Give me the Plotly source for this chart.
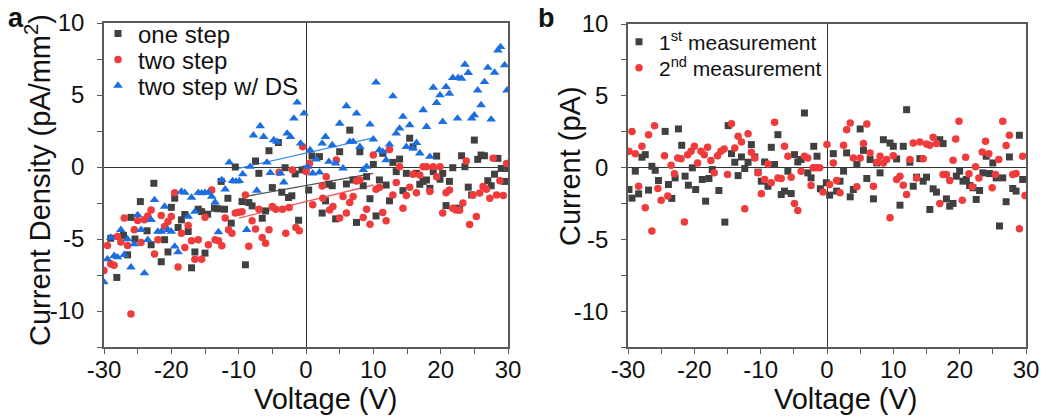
import plotly.graph_objects as go

# ---------------- Panel a data ----------------
one_x = [-28.1, -29.0, -27.1, -26.5, -26.0, -25.4, -24.6, -23.6, -23.0, -22.6, -21.5, -21.0, -20.5, -20.0,
         -19.5, -19.0, -18.5, -18.0, -17.5, -17.0, -16.5, -16.0, -15.5, -15.0, -14.6, -13.6, -13.1, -12.6,
         -12.1, -11.6, -11.1, -10.5, -9.5, -9.0, -8.5, -8.0, -7.5, -7.0, -6.5, -6.0, -5.5, -5.0, -4.1, -3.6,
         -3.1, -2.6, -2.1, -1.6, -1.1, -0.6, 0.0, 0.4, 0.9, 2.0, 2.4, 2.9, 3.4, 3.9, 4.4, 5.0, 6.0, 6.5, 7.0,
         7.5, 8.0, 8.5, 9.0, 9.5, 10.0, 10.4, 10.9, 11.4, 11.9, 12.4, 12.9, 13.4, 13.9, 14.4, 14.9, 15.4,
         15.9, 16.4, 16.9, 17.4, 17.9, 18.4, 18.9, 19.4, 19.9, 20.3, 20.8, 21.3, 21.8, 22.3, 22.8, 23.1,
         23.6, 24.1, 24.6, 25.0, 25.5, 26.0, 26.5, 27.0, 27.5, 28.0, 28.5, 29.0, 29.5, 30.0]
one_y = [-7.67, -4.95, -4.75, -6.1, -3.5, -5.0, -2.4, -4.43, -5.4, -1.13, -6.58, -5.05, -5.9, -2.8,
         -2.17, -4.2, -3.67, -3.3, -4.48, -7.0, -5.9, -2.93, -3.1, -5.98, -3.28, -2.86, -2.9, -1.0,
         -2.93, -2.17, -3.9, 0.0, -2.4, -6.79, -2.47, -2.7, 0.42, -0.44, -3.56, -3.05, 1.13, -1.43, 1.7, -1.75,
         -0.05, -2.12, -2.0, -0.48, -3.7, -0.2, -0.14, -1.6, 0.76, 0.72, -3.2, -2.35, -1.2, -1.3, -3.6, 1.06,
         -1.18, 2.56, -0.9, -3.85, 1.06, -1.3, -0.67, -2.2, 0.18, -3.4, -0.9, 0.95, -1.25, -2.35, 0.32,
         -0.32, 0.55, -1.64, -0.44, 2.0, 1.4, -0.44, -1.2, -1.0, -0.9, -1.48, -0.32, 0.76, -0.85, -0.44,
         -2.68, -1.0, -0.05, -2.86, -2.93, 0.78, 0.02, -1.4, -1.94, 1.87, 0.53, 0.83, 0.78, -0.95, -1.3,
         -0.5, 0.6, -0.1, -1.0, -0.1]

two_x = [-30.0, -29.5, -29.0, -28.5, -28.0, -27.5, -27.0, -26.5, -26.0, -25.5, -25.0, -24.5, -24.0, -23.5,
         -23.0, -22.5, -22.0, -21.5, -21.0, -20.5, -20.0, -19.5, -19.0, -18.5, -18.0, -17.5, -17.0, -16.5,
         -16.0, -15.5, -15.0, -14.5, -14.0, -13.5, -13.0, -12.5, -12.0, -11.5, -11.0, -10.5, -10.0, -9.5,
         -9.0, -8.5, -8.0, -7.5, -7.0, -6.5, -6.0, -5.5, -5.0, -4.5, -4.0, -3.5, -3.0, -2.5, -2.0, -1.5,
         -1.0, -0.5, 0.0, 0.5, 1.0, 2.4, 2.5, 3.0, 3.5, 4.0, 4.5, 5.0, 5.5, 6.0, 6.5, 7.0, 7.5, 8.0, 8.5,
         9.0, 9.5, 10.0, 10.4, 10.9, 11.4, 11.9, 12.4, 12.9, 13.4, 13.9, 14.4, 14.9, 15.4, 15.9, 16.4, 16.9,
         17.4, 17.9, 18.4, 18.9, 19.4, 19.9, 20.3, 20.8, 21.3, 21.8, 22.3, 22.8, 23.3, 23.8, 24.3, 24.8,
         25.3, 25.8, 26.3, 26.8, 27.3, 27.8, 28.3, 28.8, 29.3, 29.8]
two_y = [-7.18, -5.45, -6.74, -6.83, -4.82, -5.2, -3.55, -5.45, -10.2, -4.36, -3.72, -5.24, -3.67, -3.4,
         -2.98, -6.05, -5.05, -3.37, -4.13, -3.79, -3.44, -1.78, -6.95, -4.6, -5.59, -4.06, -5.12, -6.4,
         -5.06, -6.4, -3.49, -5.4, -1.6, -5.06, -5.12, -5.47, -3.55, -4.36, -4.6, -3.2, -3.14, -3.1,
         -1.94, -5.5, -3.74, -4.3, -2.93, -4.9, -5.3, -4.36, -2.75, -2.93, -0.37, -2.93, -4.6, -2.82, -0.2, -4.2,
         -4.43, 1.4, -0.32, 0.25, -2.63, -1.32, -2.17, -0.67, -2.98, -2.75, 0.48, -3.55, -2.05, -3.2, -2.47,
         -2.05, -0.97, -0.9, -3.5, -2.93, -3.97, 0.83, -1.55, -1.43, -3.16, -3.74, 1.22, -1.94, -1.08, 0.02,
         -2.86, -1.98, -1.4, -0.5, -1.78, -0.55, 0.02, 0.02, -1.7, 0.02, -0.67, 0.02, -3.2, -1.78, -1.6,
         -2.86, -2.98, -3.0, -2.5, 0.42, -4.0, -1.94, -3.44, -1.8, -1.36, -1.55, -2.17, 0.6, -1.94, -0.95,
         -1.98, 0.25]

ds_x = [-30.0, -29.5, -29.0, -28.5, -28.0, -27.5, -27.0, -26.5, -26.0, -25.5, -25.0, -24.5, -24.0, -23.5,
        -23.0, -22.5, -22.0, -21.5, -21.0, -20.5, -20.0, -19.5, -19.0, -18.5, -18.0, -17.5, -17.0, -16.5,
        -16.0, -15.5, -15.0, -14.5, -14.0, -13.5, -13.0, -12.5, -12.0, -11.4, -10.9, -10.4, -9.9, -9.4,
        -8.8, -8.3, -7.8, -7.3, -6.8, -6.3, -5.8, -5.3, -4.8, -4.3, -3.8, -3.3, -2.8, -2.3, -1.8, -1.3,
        -0.8, -0.3, 0.2, 0.6, 1.0, 1.5, 2.0, 2.4, 2.9, 3.4, 3.9, 4.4, 5.0, 5.5, 6.0, 6.5, 7.0, 7.5, 8.0,
        8.5, 9.0, 9.5, 10.0, 10.4, 10.9, 11.4, 11.9, 12.4, 12.9, 13.4, 13.9, 14.4, 14.9, 15.4, 15.9, 16.4,
        16.9, 17.4, 17.9, 18.4, 18.9, 19.4, 19.9, 20.3, 20.8, 21.3, 21.8, 22.5, 22.6, 23.1, 23.6, 24.1,
        24.6, 25.0, 25.5, 26.0, 26.5, 27.0, 27.5, 28.0, 28.5, 28.9, 29.5, 29.85]
ds_y = [-8.0, -6.4, -4.9, -6.17, -6.26, -4.36, -6.1, -5.0, -6.97, -5.36, -3.33, -4.36, -7.37, -5.06,
        -3.67, -2.29, -4.48, -4.48, -2.75, -4.36, -4.48, -5.52, -5.91, -1.71, -1.78, -3.44, -2.12, -3.1,
        -1.78, -1.82, -1.78, -1.78, -2.05, -2.45, -4.52, -0.9, -1.55, 0.32, -0.97, -1.0, -0.97, -0.5,
        -4.36, 0.02, 2.2, -1.64, 2.84, 2.1, 0.32, -0.4, 1.87, 1.76, -0.44, -1.06, 2.33, 2.1, 3.37, 4.48,
        1.64, 3.72, 0.02, 1.18, -0.44, 0.53, -0.37, 1.64, 2.1, 0.37, 1.52, 0.25, 3.02, -0.09, 4.23, 1.76,
        1.76, 3.72, 1.4, -0.2, 0.02, 2.96, 1.92, 5.87, 1.18, 1.06, 0.48, 1.57, 4.92, 2.33, 2.68, 3.49, 1.4,
        2.91, 1.29, 1.68, 0.95, 3.95, 2.79, 0.72, 5.52, 4.46, 4.99, 3.14, 5.56, 5.1, 6.19, 3.37, 6.19,
        6.14, 7.11, 6.54, 3.37, 3.6, 5.33, 4.3, 5.91, 6.9, 3.3, 6.56, 8.1, 8.34, 7.07, 5.33]

# linear fits (endpoints)
fit_one_x = [-9.1, 10.0]
fit_one_y = [-2.05, -0.44]
fit_two_x = [-10.0, 10.0]
fit_two_y = [-3.55, -1.25]
fit_ds_x = [-10.0, 10.0]
fit_ds_y = [-0.09, 2.03]

# ---------------- Panel b data ----------------
m1_x = [-29.85, -29.4, -28.9, -28.4, -27.9, -27.4, -26.9, -26.4, -25.9, -25.4, -24.4, -23.9, -23.4, -22.9,
        -22.4, -21.9, -21.4, -20.9, -20.3, -19.8, -18.8, -18.3, -17.8, -17.3, -16.3, -15.4, -14.9, -14.4,
        -13.9, -13.4, -12.9, -12.4, -11.9, -11.4, -10.9, -10.4, -9.9, -9.4, -8.9, -8.4, -7.9, -7.4, -6.9,
        -6.4, -5.9, -5.4, -4.9, -4.4, -3.9, -3.4, -2.9, -2.4, -2.0, -1.5, -1.0, -0.1, 0.4, 0.95, 1.45,
        1.96, 2.5, 2.96, 3.5, 3.97, 4.5, 5.0, 5.5, 6.0, 6.5, 7.0, 7.5, 8.0, 8.5, 9.5, 10.0, 10.5, 11.0,
        11.5, 12.0, 12.5, 13.0, 13.5, 14.0, 14.5, 15.0, 15.5, 16.0, 16.5, 17.0, 17.5, 18.0, 18.5, 19.0,
        19.5, 20.0, 20.5, 21.0, 21.5, 22.0, 22.5, 23.0, 23.5, 24.0, 24.5, 25.0, 25.5, 26.0, 26.5, 27.0,
        27.5, 28.0, 28.5, 29.0, 29.5]
m1_y = [-1.53, -2.13, -0.25, -1.83, 0.72, 0.9, -1.57, 0.09, -0.19, -0.9, 2.52, -1.18, -2.15, -0.72,
        2.69, 1.55, -0.6, -1.23, -0.02, -1.53, -0.83, -2.34, -0.76, -0.14, -1.6, -3.8, 2.92, 0.97,
        0.37, -0.56, 0.74, -0.07, 0.37, 1.6, 0.74, -0.32, -0.95, 0.39, -1.3, 1.41, 0.21, 2.29, -1.88,
        -1.64, -0.25, -1.81, 0.9, 0.39, 0.56, 3.8, -0.37, -0.72, 1.48, 0.79, -1.48, -1.06, -1.92, 0.97, -1.64,
        -0.95, -0.25, 1.02, -2.04, -1.53, 0.21, 2.69, 1.2, -0.76, 0.56, -2.18, 0.32, -0.37, 1.94, 1.71, 1.48,
        0.6, -2.62, 1.48, 4.03, 0.37, -1.3, -0.67, 0.62, -0.95, -0.67, -2.92, -1.48, -1.71, 1.94, 1.67,
        -2.18, -2.69, -2.5, -0.6, -0.25, -0.95, -0.83, -1.25, -1.41, -2.22, -1.6, -0.37, 0.79, -0.42, 0.32,
        -0.72, -4.07, -0.72, -2.38, 0.74, -1.46, -1.64, 2.25, -0.83]

m2_x = [-29.85, -29.4, -28.9, -28.4, -27.9, -27.4, -26.9, -26.4, -26.0, -25.5, -25.0, -24.5, -24.0, -23.5,
        -23.0, -22.5, -22.0, -21.5, -21.0, -20.5, -20.0, -19.5, -19.0, -18.5, -18.0, -17.5, -17.0, -16.5,
        -16.0, -15.5, -15.0, -14.4, -13.9, -13.4, -12.9, -12.4, -11.9, -11.4, -10.9, -10.4, -9.9, -9.4,
        -8.9, -8.4, -7.9, -7.4, -6.9, -6.4, -5.9, -5.4, -4.9, -4.4, -3.9, -3.4, -2.9, -2.4, -2.1, -1.6,
        -1.1, -0.6, 0.0, 0.4, 0.95, 1.45, 1.96, 2.5, 2.96, 3.5, 3.97, 4.5, 5.0, 5.5, 6.0, 6.5, 7.0, 7.5,
        8.0, 8.5, 9.0, 9.5, 10.0, 10.5, 11.0, 11.5, 12.0, 12.5, 13.0, 13.5, 14.0, 14.5, 15.0, 15.5, 16.0,
        16.5, 17.0, 17.5, 18.0, 18.5, 19.0, 19.4, 19.9, 20.4, 20.9, 21.4, 21.9, 22.4, 22.9, 23.4, 23.9,
        24.4, 24.9, 25.4, 25.9, 26.5, 27.0, 27.5, 28.0, 28.5, 29.0, 29.5, 29.85]
m2_y = [1.13, 2.52, 0.97, -1.3, 1.48, -2.8, 2.29, -4.42, 2.92, -1.46, -2.27, 0.83, -1.99, 0.16,
        -0.44, 0.67, 0.62, -3.8, 0.9, 1.13, 1.48, 0.32, 1.13, 0.9, 1.41, 0.49, -0.37, 0.83,
        1.13, 1.3, -0.49, 3.06, 1.37, 2.18, 1.78, -2.87, 2.36, 1.06, 0.67, -0.37, -1.83, -0.83,
        0.25, -1.06, 3.15, -0.72, -0.76, 1.48, 0.79, -0.67, -2.5, -2.99, -0.25, 0.79, 0.67, -1.25, -0.02, -0.02,
        -0.02, -1.71, 1.6, -1.18, 0.32, -0.9, -1.76, 1.55, 2.64, 3.1, 0.67, -1.34, 0.67, 1.67, 3.03, 1.02,
        -1.3, 0.37, 0.79, 0.32, 0.56, -3.5, 0.83, -0.83, -0.6, -1.23, -1.88, 0.56, 1.71, -0.72, 1.78, 0.62,
        1.64, 1.55, 2.11, 1.67, -2.5, -0.49, -0.49, -0.9, 0.51, 1.99, 3.22, -2.27, 0.72, -0.44, -1.34, 0.05,
        -0.72, 1.09, 1.83, 0.97, -1.41, -0.49, 0.56, 3.22, 1.53, 2.25, -0.49, -0.42, -4.26, 0.79, -1.94]

x_ticks = [-30, -20, -10, 0, 10, 20, 30]
y_ticks = [-10, -5, 0, 5, 10]
x_ticktext = [str(v) for v in x_ticks]   # plain hyphen minus as in the original
y_ticktext = [str(v) for v in y_ticks]

GRAY = "#404040"
RED = "#ef3b3b"
BLUE = "#1c6ee0"
FONT = "Liberation Sans, Arial, sans-serif"
INK = "#111111"

# window 1050x417; the page body adds an 8px margin at the top-left,
# so the figure fills the rest of the window
OFF = 8
W, H = 1050 - OFF, 417 - OFF


def px_x(p):
    return (p - OFF) / W


def px_y(p):
    return 1 - (p - OFF) / H


fig = go.Figure()

# fit lines (panel a)
fig.add_trace(go.Scatter(x=fit_ds_x, y=fit_ds_y, mode="lines", line=dict(color="#3d8fe8", width=1.3),
                         showlegend=False, xaxis="x", yaxis="y"))
fig.add_trace(go.Scatter(x=fit_one_x, y=fit_one_y, mode="lines", line=dict(color="#555555", width=1.3),
                         showlegend=False, xaxis="x", yaxis="y"))
fig.add_trace(go.Scatter(x=fit_two_x, y=fit_two_y, mode="lines", line=dict(color="#f05a5a", width=1.3),
                         showlegend=False, xaxis="x", yaxis="y"))

fig.add_trace(go.Scatter(x=one_x, y=one_y, mode="markers", name="one step",
                         marker=dict(symbol="square", size=7, color=GRAY), xaxis="x", yaxis="y",
                         legend="legend"))
fig.add_trace(go.Scatter(x=two_x, y=two_y, mode="markers", name="two step",
                         marker=dict(symbol="circle", size=7.5, color=RED), xaxis="x", yaxis="y",
                         legend="legend3"))
fig.add_trace(go.Scatter(x=ds_x, y=ds_y, mode="markers", name="two step w/ DS",
                         marker=dict(symbol="triangle-up", size=8.5, color=BLUE), xaxis="x", yaxis="y",
                         legend="legend4"))

fig.add_trace(go.Scatter(x=m1_x, y=m1_y, mode="markers", name="1<sup>st</sup> measurement",
                         marker=dict(symbol="square", size=7, color=GRAY), xaxis="x2", yaxis="y2",
                         legend="legend2"))
fig.add_trace(go.Scatter(x=m2_x, y=m2_y, mode="markers", name="2<sup>nd</sup> measurement",
                         marker=dict(symbol="circle", size=7.5, color=RED), xaxis="x2", yaxis="y2",
                         legend="legend5"))

axis_common = dict(
    showline=True, linecolor="#5a5a5a", linewidth=1.5, mirror=True,
    ticks="outside", ticklen=5, tickwidth=1.2, tickcolor="#5a5a5a",
    showgrid=False, zeroline=True, zerolinecolor="#333333", zerolinewidth=1.2,
    tickfont=dict(size=24, color=INK, family=FONT), automargin=False,
)

xa = dict(axis_common, range=[-30, 30], tickvals=x_ticks, ticktext=x_ticktext,
          minor=dict(ticks="outside", dtick=5, ticklen=5, tickcolor="#5a5a5a", tickwidth=1.2),
          ticklabelstandoff=-5)
ya = dict(axis_common, range=[-12.5, 10], tickvals=y_ticks, ticktext=y_ticktext,
          minor=dict(ticks="outside", dtick=2.5, ticklen=5, tickcolor="#5a5a5a", tickwidth=1.2),
          ticklabelstandoff=8)

leg_a = dict(xanchor="left", yanchor="middle", bgcolor="rgba(0,0,0,0)",
             font=dict(size=24, color=INK, family=FONT), itemsizing="trace", borderwidth=0)
leg_b = dict(leg_a, font=dict(size=21, color=INK, family=FONT))


def label(text, x, y, angle=0, size=29, bold=False):
    return dict(text=f"<b>{text}</b>" if bold else text, x=px_x(x), y=px_y(y),
                xref="paper", yref="paper", showarrow=False, textangle=angle,
                xanchor="center", yanchor="middle",
                font=dict(size=size, color=INK, family=FONT))


fig.update_layout(
    width=W, height=H,
    margin=dict(l=0, r=0, t=0, b=0, autoexpand=False),
    paper_bgcolor="white", plot_bgcolor="white",
    font=dict(family=FONT, color=INK),
    xaxis=dict(xa, domain=[px_x(104), px_x(508)], anchor="y"),
    yaxis=dict(ya, domain=[px_y(347), px_y(23)], anchor="x"),
    xaxis2=dict(xa, domain=[px_x(628), px_x(1026)], anchor="y2"),
    yaxis2=dict(ya, domain=[px_y(347), px_y(24)], anchor="x2"),
    legend=dict(leg_a, x=px_x(98), y=px_y(34)),
    legend3=dict(leg_a, x=px_x(98), y=px_y(60)),
    legend4=dict(leg_a, x=px_x(98), y=px_y(86)),
    legend2=dict(leg_b, x=px_x(619), y=px_y(42)),
    legend5=dict(leg_b, x=px_x(619), y=px_y(68)),
    annotations=[
        label("a", 16, 18, size=27, bold=True),
        label("b", 546, 18, size=27, bold=True),
        label("Voltage (V)", 325, 399),
        label("Voltage (V)", 845, 399),
        label("Current Density (pA/mm<sup>2</sup>)", 38, 180, angle=-90),
        label("Current (pA)", 570, 166, angle=-90),
    ],
)

fig.write_html("out.html")
